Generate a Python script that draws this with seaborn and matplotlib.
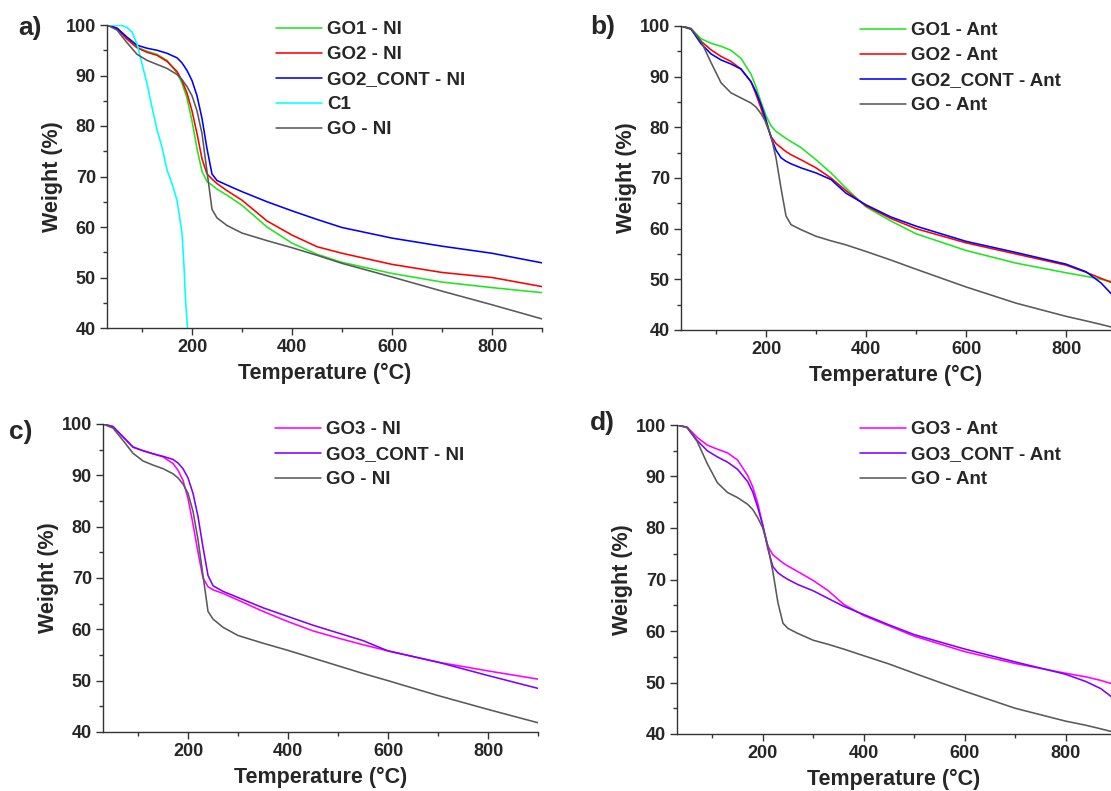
import pandas as pd
import matplotlib
matplotlib.use("Agg")
import matplotlib.pyplot as plt
import seaborn as sns
from matplotlib.ticker import MultipleLocator

sns.set_style("ticks")
plt.rcParams["font.family"] = ["Liberation Sans", "DejaVu Sans"]
plt.rcParams["font.weight"] = "bold"
plt.rcParams["axes.labelweight"] = "bold"

# -----------------------------
# Data
# -----------------------------

# panel a) - NI
temp_a = [30, 50, 70, 90, 110, 130, 150, 170, 180, 190, 200, 210, 220, 230, 240,
          250, 270, 300, 350, 400, 450, 500, 600, 700, 800, 900]
go1_ni = [100, 99.3, 97.3, 95.6, 94.8, 94.2, 93.0, 90.5, 88.5, 85.5, 81.0, 75.5, 71.0,
          69.0, 68.3, 67.5, 66.3, 64.3, 60.0, 56.8, 54.6, 53.0, 50.8, 49.1, 48.0, 47.0]
go2_ni = [100, 99.3, 97.2, 95.5, 94.6, 94.0, 92.8, 90.8, 89.0, 86.5, 83.0, 78.5, 73.5,
          70.5, 69.5, 68.6, 67.2, 65.3, 61.2, 58.4, 56.1, 54.8, 52.6, 51.0, 50.0, 48.2]
go2_cont_ni = [100, 99.4, 97.6, 96.0, 95.4, 95.0, 94.4, 93.5, 92.5, 91.0, 89.0, 86.0, 81.5,
               75.5, 70.5, 69.2, 68.3, 67.0, 65.0, 63.2, 61.5, 59.9, 57.8, 56.2, 54.8, 52.9]
go_ni_a = [100, 99.0, 96.5, 94.2, 93.0, 92.2, 91.4, 90.2, 89.2, 87.8, 86.0, 83.0, 78.5,
           71.0, 63.5, 61.8, 60.3, 58.8, 57.3, 55.9, 54.4, 52.8, 50.1, 47.3, 44.6, 41.8]
temp_c1 = [30, 45, 60, 70, 80, 90, 100, 110, 120, 130, 140, 150, 160, 170, 180, 184, 187, 191]
c1 = [100, 100, 99.9, 99.5, 98.6, 96.3, 92.3, 88.4, 83.7, 79.3, 75.8, 71.3, 68.6, 65.3,
      58.8, 52.2, 45.6, 40.0]

# panel b) - Ant
temp_b = [30, 50, 70, 90, 110, 130, 150, 170, 180, 190, 200, 210, 220, 230, 240, 250,
          270, 300, 330, 360, 400, 450, 500, 600, 700, 800, 840, 870, 890]
go1_ant = [100, 99.5, 97.5, 96.6, 96.0, 95.2, 93.6, 90.5, 88.0, 85.0, 82.3, 80.3, 79.2,
           78.5, 77.8, 77.2, 76.0, 73.6, 71.0, 68.0, 64.3, 61.5, 59.0, 55.7, 53.2, 51.3,
           50.6, 50.0, 49.6]
go2_ant = [100, 99.4, 97.0, 95.3, 94.0, 93.0, 91.5, 89.0, 86.5, 83.8, 80.8, 78.2, 76.8,
           76.0, 75.2, 74.6, 73.6, 72.0, 70.0, 67.5, 64.5, 62.0, 60.0, 57.2, 55.0, 52.8,
           51.4, 50.2, 49.4]
go2_cont_ant = [100, 99.4, 96.5, 94.5, 93.3, 92.5, 91.5, 89.0, 87.0, 84.5, 81.5, 78.0,
                75.5, 74.0, 73.3, 72.8, 72.0, 71.0, 69.7, 67.0, 64.7, 62.3, 60.5, 57.5,
                55.3, 53.0, 51.5, 49.3, 47.2]
go_ant_b = [100, 99.5, 97.0, 92.8, 88.8, 86.8, 85.8, 84.8, 84.0, 82.7, 81.0, 78.3, 74.0,
            68.0, 62.5, 60.8, 59.8, 58.5, 57.6, 56.8, 55.5, 53.8, 52.0, 48.5, 45.3, 42.7,
            41.8, 41.1, 40.6]

# panel c) - NI
temp_c = [30, 50, 70, 90, 110, 130, 150, 170, 180, 190, 200, 210, 220, 230, 240, 250,
          270, 300, 350, 400, 450, 500, 550, 600, 700, 800, 900]
go3_ni = [100, 99.5, 97.5, 95.5, 94.8, 94.2, 93.6, 92.3, 91.0, 89.0, 85.5, 80.5, 75.0,
          70.0, 68.3, 67.7, 67.0, 65.7, 63.5, 61.5, 59.7, 58.3, 57.0, 55.8, 53.6, 51.9, 50.3]
go3_cont_ni = [100, 99.5, 97.5, 95.5, 94.8, 94.2, 93.7, 93.1, 92.4, 91.3, 89.5, 86.5, 82.0,
               76.0, 70.5, 68.5, 67.4, 66.2, 64.2, 62.5, 60.8, 59.3, 57.8, 55.8, 53.6, 51.0, 48.5]
go_ni_c = [100, 99.2, 96.8, 94.3, 92.8, 92.0, 91.3, 90.3, 89.5, 88.3, 86.5, 83.0, 77.5,
           70.5, 63.5, 62.0, 60.4, 58.8, 57.3, 55.9, 54.4, 52.9, 51.4, 50.0, 47.1, 44.4, 41.8]

# panel d) - Ant
temp_d = [30, 50, 70, 90, 110, 130, 150, 170, 180, 190, 200, 210, 220, 230, 240, 250,
          270, 300, 330, 360, 400, 450, 500, 600, 700, 800, 840, 870, 890]
go3_ant = [100, 99.6, 97.6, 96.1, 95.3, 94.6, 93.2, 90.2, 88.0, 84.8, 80.5, 76.5, 74.8,
           74.0, 73.2, 72.6, 71.5, 69.8, 67.8, 65.2, 63.0, 61.0, 59.0, 56.0, 53.7, 51.8,
           51.1, 50.4, 49.8]
go3_cont_ant = [100, 99.5, 97.0, 95.0, 93.8, 92.8, 91.4, 89.0, 87.0, 84.0, 80.5, 76.0,
                72.5, 71.3, 70.6, 70.0, 69.0, 67.8, 66.3, 64.8, 63.2, 61.2, 59.3, 56.5,
                54.0, 51.6, 50.2, 48.8, 47.3]
go_ant_d = [100, 99.5, 96.8, 92.5, 88.8, 86.9, 85.9, 84.6, 83.6, 82.0, 80.0, 76.5, 71.5,
            65.5, 61.5, 60.5, 59.5, 58.2, 57.4, 56.5, 55.2, 53.6, 51.8, 48.3, 45.0, 42.5,
            41.7, 41.0, 40.5]

GREEN, RED, BLUE, CYAN = "#1ee61e", "#ff0000", "#0000ff", "#00ffff"
GRAY, MAGENTA, VIOLET = "#595959", "#ff00ff", "#8000ff"

# -----------------------------
# Plot helper
# -----------------------------

def draw_panel(ax, series, xmax, leg_xy, tag, tag_xy):
    frames = []
    for label, t, w, color in series:
        frames.append(pd.DataFrame({"T": t, "W": w, "sample": label}))
    df = pd.concat(frames, ignore_index=True)
    palette = {label: color for label, t, w, color in series}
    sns.lineplot(data=df, x="T", y="W", hue="sample", palette=palette,
                 estimator=None, sort=False, linewidth=1.15, ax=ax)

    ax.set_xlim(30, xmax)
    ax.set_ylim(40, 100)
    ax.xaxis.set_major_locator(MultipleLocator(200))
    ax.xaxis.set_minor_locator(MultipleLocator(100))
    ax.yaxis.set_major_locator(MultipleLocator(10))
    ax.yaxis.set_minor_locator(MultipleLocator(5))
    ax.tick_params(which="major", direction="out", length=5, width=1,
                   labelsize=13, color="#333333", pad=3)
    ax.tick_params(which="minor", direction="out", length=3, width=1, color="#333333")
    for side in ["top", "right"]:
        ax.spines[side].set_visible(False)
    for side in ["left", "bottom"]:
        ax.spines[side].set_color("#333333")
        ax.spines[side].set_linewidth(1.0)

    ax.set_xlabel("Temperature (°C)", fontsize=15.5, labelpad=5)
    ax.set_ylabel("Weight (%)", fontsize=15.5, labelpad=2)

    handles, labels = ax.get_legend_handles_labels()
    ax.legend(handles, labels, loc="upper left", bbox_to_anchor=leg_xy,
              bbox_transform=fig.transFigure, frameon=False, fontsize=13.5,
              handlelength=2.45, handletextpad=0.27, labelspacing=0.42, borderpad=0,
              borderaxespad=0)
    fig.text(tag_xy[0], tag_xy[1], tag, fontsize=19, fontweight="bold",
             ha="left", va="center")


fig = plt.figure(figsize=(11.11, 7.91), dpi=100)
W, H = 1111, 791

def rect(x0, y_top, x1, y_bot):
    return [x0 / W, 1 - y_bot / H, (x1 - x0) / W, (y_bot - y_top) / H]

ax_a = fig.add_axes(rect(107, 25, 542, 328))
ax_b = fig.add_axes(rect(681, 26, 1111, 330))
ax_c = fig.add_axes(rect(103, 424, 538, 732))
ax_d = fig.add_axes(rect(677, 425, 1111, 734))

draw_panel(ax_a, [("GO1 - NI", temp_a, go1_ni, GREEN),
                  ("GO2 - NI", temp_a, go2_ni, RED),
                  ("GO2_CONT - NI", temp_a, go2_cont_ni, BLUE),
                  ("C1", temp_c1, c1, CYAN),
                  ("GO - NI", temp_a, go_ni_a, GRAY)],
           900, (276 / W, 1 - 21 / H), "a)", (18 / W, 1 - 28 / H))

draw_panel(ax_b, [("GO1 - Ant", temp_b, go1_ant, GREEN),
                  ("GO2 - Ant", temp_b, go2_ant, RED),
                  ("GO2_CONT - Ant", temp_b, go2_cont_ant, BLUE),
                  ("GO - Ant", temp_b, go_ant_b, GRAY)],
           890, (860 / W, 1 - 22 / H), "b)", (590 / W, 1 - 27 / H))

draw_panel(ax_c, [("GO3 - NI", temp_c, go3_ni, MAGENTA),
                  ("GO3_CONT - NI", temp_c, go3_cont_ni, VIOLET),
                  ("GO - NI", temp_c, go_ni_c, GRAY)],
           900, (275 / W, 1 - 421 / H), "c)", (9 / W, 1 - 432 / H))

draw_panel(ax_d, [("GO3 - Ant", temp_d, go3_ant, MAGENTA),
                  ("GO3_CONT - Ant", temp_d, go3_cont_ant, VIOLET),
                  ("GO - Ant", temp_d, go_ant_d, GRAY)],
           890, (860 / W, 1 - 421 / H), "d)", (590 / W, 1 - 423 / H))

fig.savefig("out.png", dpi=100)
